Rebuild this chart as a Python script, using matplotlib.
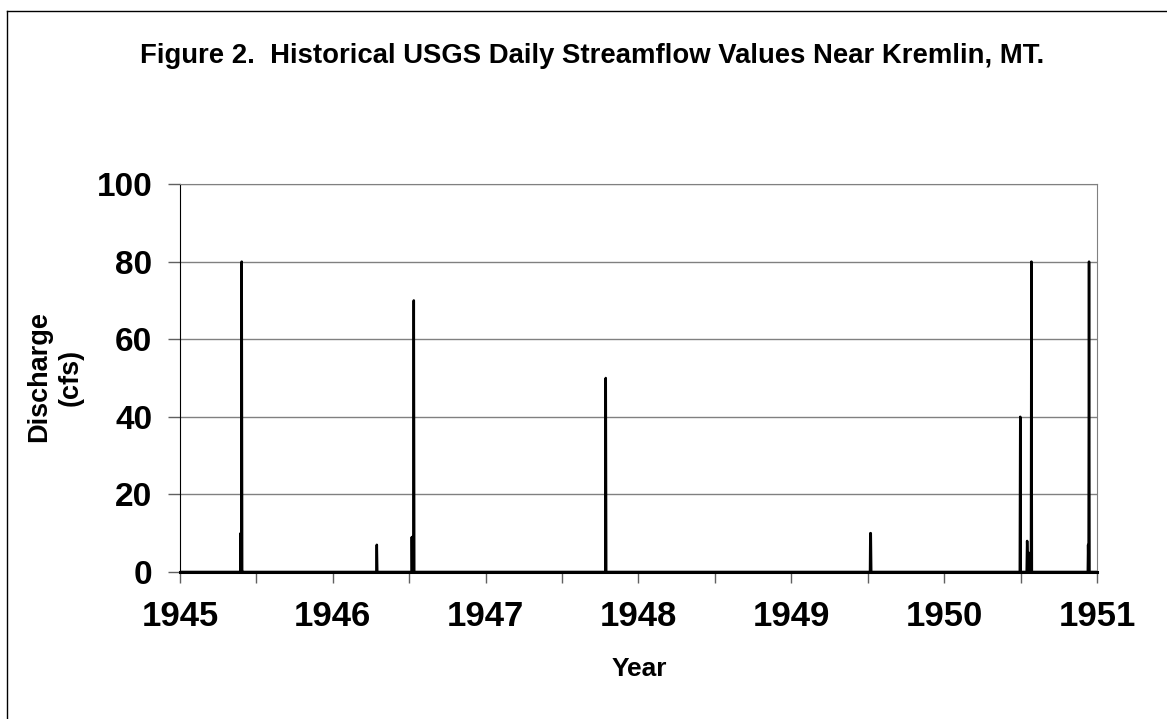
import matplotlib.pyplot as plt
from matplotlib.lines import Line2D
from matplotlib.ticker import MultipleLocator

plt.rcParams['font.family'] = ['Liberation Sans', 'DejaVu Sans']

# decimal year and discharge (cfs); zero between flow events
years = [1945.0, 1945.395, 1945.397, 1945.399, 1945.401, 1945.404, 1945.407, 1945.409,
         1946.285, 1946.288, 1946.291,
         1946.515, 1946.517, 1946.520, 1946.523, 1946.527, 1946.530, 1946.533,
         1947.783, 1947.786, 1947.789,
         1949.515, 1949.517, 1949.520, 1949.523,
         1950.495, 1950.498, 1950.501, 1950.540, 1950.543, 1950.549, 1950.552,
         1950.556, 1950.568, 1950.571, 1950.574,
         1950.940, 1950.942, 1950.945, 1950.948, 1950.951, 1951.0]
flow = [0, 0, 10, 0, 0, 80, 0, 0,
        0, 7, 0,
        0, 9, 0, 9, 0, 70, 0,
        0, 50, 0,
        0, 10, 10, 0,
        0, 40, 0, 0, 8, 0, 5, 0, 0, 80, 0,
        0, 7, 0, 80, 0, 0]

fig = plt.figure(figsize=(11.67, 7.19), dpi=100)
# outer frame: only top and left edges visible in the crop
top_y = 1 - 11 / 719
left_x = 7 / 1167
fig.lines.append(Line2D([left_x, 1.0], [top_y, top_y], transform=fig.transFigure,
                        color='black', linewidth=1))
fig.lines.append(Line2D([left_x, left_x], [0.0, top_y], transform=fig.transFigure,
                        color='black', linewidth=1))

ax = fig.add_axes([0.1542, 0.2045, 0.7858, 0.5395])
ax.plot(years, flow, color='black', linewidth=1.8)

ax.set_xlim(1945, 1951)
ax.set_ylim(0, 100)
ax.set_xticks(range(1945, 1952))
ax.xaxis.set_minor_locator(MultipleLocator(0.5))
ax.set_yticks(range(0, 101, 20))
ax.yaxis.grid(True, color='#808080', linewidth=1)
ax.set_axisbelow(True)
for s in ['top', 'right']:
    ax.spines[s].set_color('#808080')
ax.spines['left'].set_color('black')
ax.spines['bottom'].set_color('black')
ax.spines['bottom'].set_linewidth(2.2)
ax.tick_params(axis='x', which='both', labelsize=25, length=8, width=1,
               color='#606060', pad=12)
ax.tick_params(axis='y', labelsize=24, length=9, width=1, color='#606060', pad=11)
for lbl in ax.get_xticklabels() + ax.get_yticklabels():
    lbl.set_fontweight('bold')

fig.text(639.5 / 1167, 1 - 669 / 719, 'Year', ha='center', va='center',
         fontsize=19, fontweight='bold')
fig.text(55 / 1167, 1 - 377 / 719, 'Discharge\n(cfs)', ha='center', va='center',
         rotation=90, multialignment='center', linespacing=1.25,
         fontsize=19.5, fontweight='bold')
fig.text(592 / 1167, 1 - 56 / 719,
         'Figure 2.  Historical USGS Daily Streamflow Values Near Kremlin, MT.',
         ha='center', va='center', fontsize=19.8, fontweight='bold')

fig.savefig('out.png', dpi=100)
